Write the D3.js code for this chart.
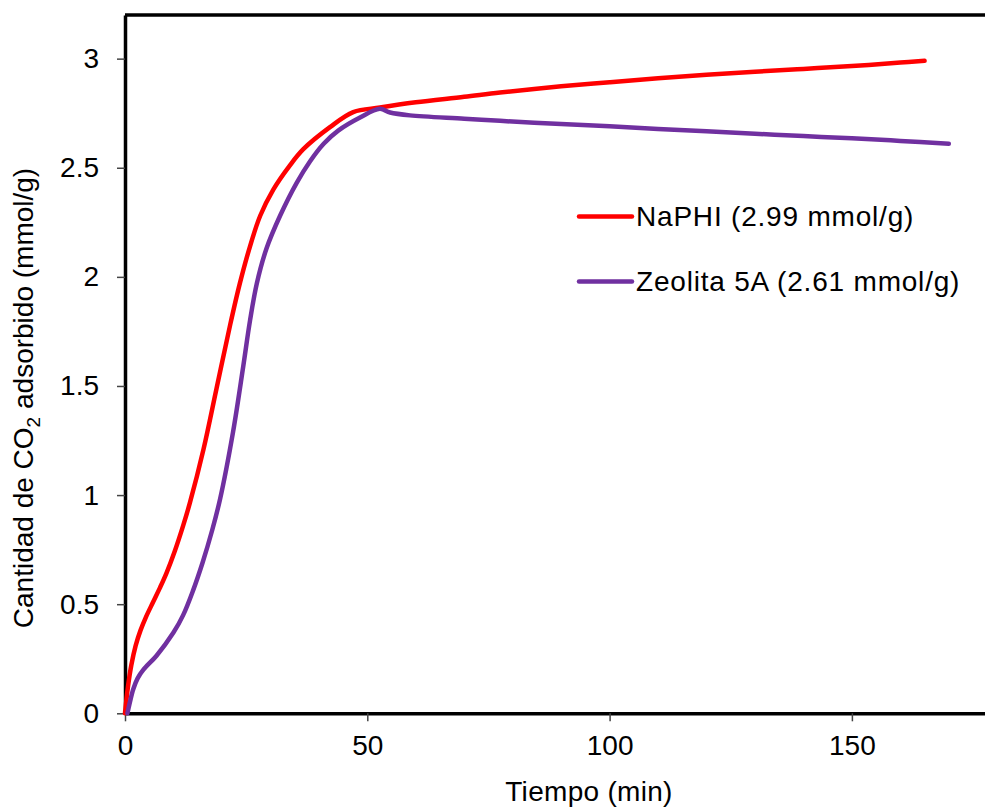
<!DOCTYPE html>
<html>
<head>
<meta charset="utf-8">
<script src="https://cdn.jsdelivr.net/npm/d3@7"></script>
<style>
  body { margin: 0; background: #fff; }
  text { font-family: 'Liberation Sans', Arial, sans-serif; fill: #000; }
</style>
</head>
<body>
<div id="d3-chart"></div>
<script>
// Tiempo (min) / cantidad adsorbida (mmol/g)
const naphiTime = [0, 0.6, 1.3, 2.2, 3.2, 4.3, 5.8, 7.2, 8.6, 10.3, 12, 13.4, 16.2, 18.9, 21.7, 23.7, 25.8, 27.9, 30.6, 34, 36.8, 42.3, 47.1, 52.6, 60, 70, 77.4, 90, 100, 110, 120, 130, 140, 150, 160, 165];
const naphiValue = [0, 0.12, 0.22, 0.31, 0.38, 0.44, 0.51, 0.575, 0.645, 0.745, 0.86, 0.965, 1.21, 1.49, 1.78, 1.97, 2.14, 2.28, 2.40, 2.51, 2.585, 2.686, 2.755, 2.776, 2.80, 2.825, 2.845, 2.873, 2.892, 2.91, 2.926, 2.94, 2.953, 2.966, 2.982, 2.99];

const zeoTime = [0.5, 1, 1.7, 2.6, 3.8, 6.5, 10, 12, 14, 16, 18, 19.6, 22.3, 24.4, 25.8, 27.2, 29.2, 32, 35.4, 38.2, 41, 44, 48.5, 52.6, 54.7, 58.8, 70, 77.4, 90, 100, 110, 120, 130, 140, 150, 160, 170];
const zeoValue = [0, 0.05, 0.11, 0.16, 0.20, 0.264, 0.37, 0.45, 0.56, 0.69, 0.84, 0.98, 1.29, 1.59, 1.80, 1.97, 2.13, 2.28, 2.43, 2.53, 2.61, 2.67, 2.73, 2.77, 2.753, 2.74, 2.725, 2.715, 2.70, 2.69, 2.678, 2.667, 2.656, 2.645, 2.635, 2.623, 2.61];

const seriesNames = ['NaPHI (2.99 mmol/g)', 'Zeolita 5A (2.61 mmol/g)'];
const xTicks = [0, 50, 100, 150];
const yTicks = [0, 0.5, 1, 1.5, 2, 2.5, 3];

const width = 985, height = 809;
const margin = { top: 15, right: 0, bottom: 95, left: 125 };
const innerW = width - margin.left - margin.right;
const innerH = height - margin.top - margin.bottom - 0.7;

const svg = d3.select('#d3-chart').append('svg')
    .attr('width', width)
    .attr('height', height);
const focus = svg.append('g')
    .attr('transform', 'translate(' + margin.left + ',' + margin.top + ')');

// Scales
const xScale = d3.scaleLinear()
    .domain([0, innerW / 4.846])
    .range([0, innerW]);
const yScale = d3.scaleLinear()
    .domain([0, 3.2])
    .range([innerH, 0]);

// Axes
const xAxis = d3.axisBottom(xScale)
    .tickValues(xTicks)
    .tickSize(8)
    .tickSizeOuter(0)
    .tickPadding(14)
    .tickFormat(d => d);
const yAxis = d3.axisLeft(yScale)
    .tickValues(yTicks)
    .tickSize(8)
    .tickSizeOuter(0)
    .tickPadding(18)
    .tickFormat(d => d);

const gx = focus.append('g')
    .attr('transform', 'translate(0,' + innerH + ')')
    .call(xAxis);
const gy = focus.append('g')
    .call(yAxis);

[gx, gy].forEach(g => {
    g.selectAll('text')
        .style('font-size', '28px')
        .attr('fill', '#000');
    g.selectAll('.tick line')
        .attr('stroke', '#444')
        .attr('stroke-width', 1.5);
    g.select('.domain')
        .attr('stroke', '#000')
        .attr('stroke-width', 3.5);
});

// top border
focus.append('line')
    .attr('x1', xScale(0)).attr('x2', innerW)
    .attr('y1', yScale(3.2)).attr('y2', yScale(3.2))
    .attr('stroke', '#000')
    .attr('stroke-width', 3.5);

// Lines
const line = d3.line()
    .x(d => xScale(d[0]))
    .y(d => yScale(d[1]))
    .curve(d3.curveCatmullRom.alpha(0.5));

const series = [
    { name: seriesNames[0], color: '#FF0000', pts: d3.zip(naphiTime, naphiValue) },
    { name: seriesNames[1], color: '#7030A0', pts: d3.zip(zeoTime, zeoValue) }
];

focus.selectAll('.serie')
    .data(series)
    .enter().append('path')
    .attr('class', 'serie')
    .attr('d', d => line(d.pts))
    .attr('fill', 'none')
    .attr('stroke', d => d.color)
    .attr('stroke-width', 4.5)
    .attr('stroke-linecap', 'round')
    .attr('stroke-linejoin', 'round');

// Legend
const legend = svg.append('g');
series.forEach((s, i) => {
    const y = 216.5 + i * 65;
    legend.append('line')
        .attr('x1', 579).attr('x2', 632)
        .attr('y1', y).attr('y2', y)
        .attr('stroke', s.color)
        .attr('stroke-width', 4.5)
        .attr('stroke-linecap', 'round');
    legend.append('text')
        .attr('x', 636)
        .attr('y', y)
        .attr('dy', '0.35em')
        .style('font-size', '28px')
        .style('letter-spacing', '0.8px')
        .text(s.name);
});

// Axis titles
svg.append('text')
    .attr('x', 589)
    .attr('y', 801)
    .attr('text-anchor', 'middle')
    .style('font-size', '28px')
    .style('letter-spacing', '0.3px')
    .text('Tiempo (min)');

const yTitle = svg.append('text')
    .attr('transform', 'translate(33,398) rotate(-90)')
    .attr('text-anchor', 'middle')
    .style('font-size', '28px');
yTitle.append('tspan').text('Cantidad de CO');
yTitle.append('tspan').attr('dy', 7).style('font-size', '19px').text('2');
yTitle.append('tspan').attr('dy', -7).text(' adsorbido (mmol/g)');
</script>
</body>
</html>
